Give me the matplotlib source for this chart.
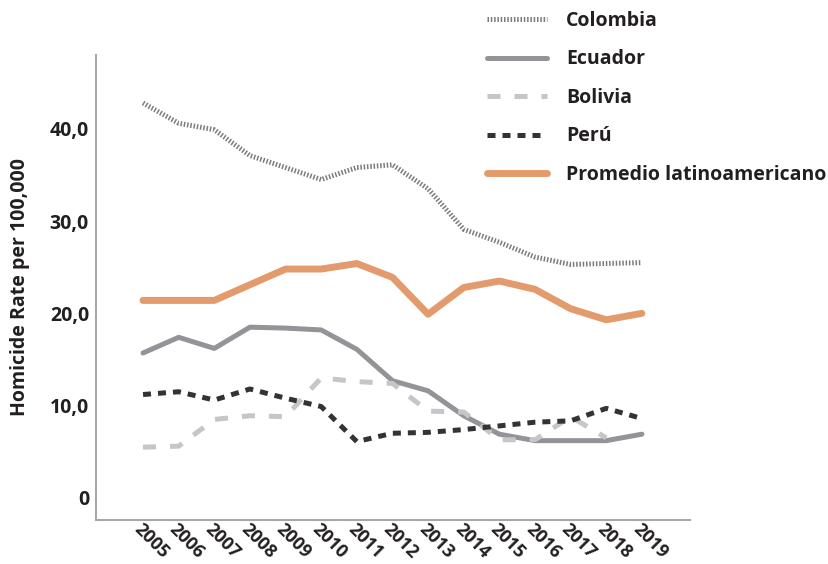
import matplotlib
matplotlib.use('Agg')
import matplotlib.pyplot as plt
import numpy as np

# data
years = np.arange(2005, 2020)
colombia = [42.8, 40.6, 39.9, 37.1, 35.8, 34.5, 35.8, 36.1, 33.5, 29.1, 27.7, 26.1, 25.3, 25.4, 25.5]
ecuador = [15.7, 17.4, 16.2, 18.5, 18.4, 18.2, 16.1, 12.7, 11.6, 8.9, 6.9, 6.2, 6.2, 6.2, 6.9]
bolivia = [5.5, 5.6, 8.5, 8.9, 8.8, 13.0, 12.6, 12.4, 9.4, 9.3, 6.3, 6.3, 8.8, 6.5, np.nan]
peru = [11.2, 11.5, 10.6, 11.8, 10.8, 9.9, 6.1, 7.0, 7.1, 7.4, 7.8, 8.2, 8.35, 9.7, 8.6]
promedio = [21.4, 21.4, 21.4, 23.1, 24.8, 24.8, 25.4, 23.9, 19.9, 22.8, 23.5, 22.6, 20.5, 19.3, 20.0]

labels = ['Colombia', 'Ecuador', 'Bolivia', 'Perú', 'Promedio latinoamericano']
yticks = [0, 10, 20, 30, 40]
ytick_labels = ['0', '10,0', '20,0', '30,0', '40,0']

txt = '#231f20'
plt.rcParams['font.family'] = ['Open Sans', 'DejaVu Sans']

fig = plt.figure(figsize=(8.29, 5.64), dpi=100)
ax = fig.add_axes([96/829, 1 - 520/564, (690-96)/829, (520-55)/564])

lw = 3.6
ax.plot(years, colombia, color='#7a7a7f', lw=lw, ls=(0, (0.3, 0.36)), dash_capstyle='butt', label=labels[0])
ax.plot(years, ecuador, color='#939398', lw=lw, solid_capstyle='round', solid_joinstyle='round', label=labels[1])
ax.plot(years, bolivia, color='#c6c6ca', lw=lw, ls=(0, (2.6, 2.8)), dash_capstyle='butt', label=labels[2])
ax.plot(years, peru, color='#333333', lw=lw, ls=(0, (1.6, 1.4)), dash_capstyle='butt', label=labels[3])
ax.plot(years, promedio, color='#e39b6d', lw=5, solid_capstyle='round', solid_joinstyle='round', label=labels[4])

ax.set_xlim(2003.68, 2020.35)
ax.set_ylim(-2.4, 48)
ax.set_yticks(yticks)
ax.set_yticklabels(ytick_labels, fontsize=14, fontweight='bold', color=txt)
ax.set_xticks(years)
ax.set_xticklabels([str(y) for y in years], fontsize=13, fontweight='bold', color=txt,
                   rotation=-45, ha='left', va='top', rotation_mode='anchor')
ax.tick_params(axis='both', length=0)
ax.tick_params(axis='y', pad=5)
ax.tick_params(axis='x', pad=0)

for s in ['top', 'right']:
    ax.spines[s].set_visible(False)
for s in ['left', 'bottom']:
    ax.spines[s].set_color('#a7a7aa')
    ax.spines[s].set_linewidth(1.5)

ax.set_ylabel('Homicide Rate per 100,000', fontsize=14, fontweight='bold', color=txt, labelpad=14)

fig.legend(loc='upper left', bbox_to_anchor=(487/829, 1 - 11/564), frameon=False,
           borderpad=0, borderaxespad=0, handlelength=3.1, handletextpad=0.95,
           labelspacing=0.95, prop={'size': 14, 'weight': 'bold'}, labelcolor=txt)

fig.savefig('out.png', dpi=100)
